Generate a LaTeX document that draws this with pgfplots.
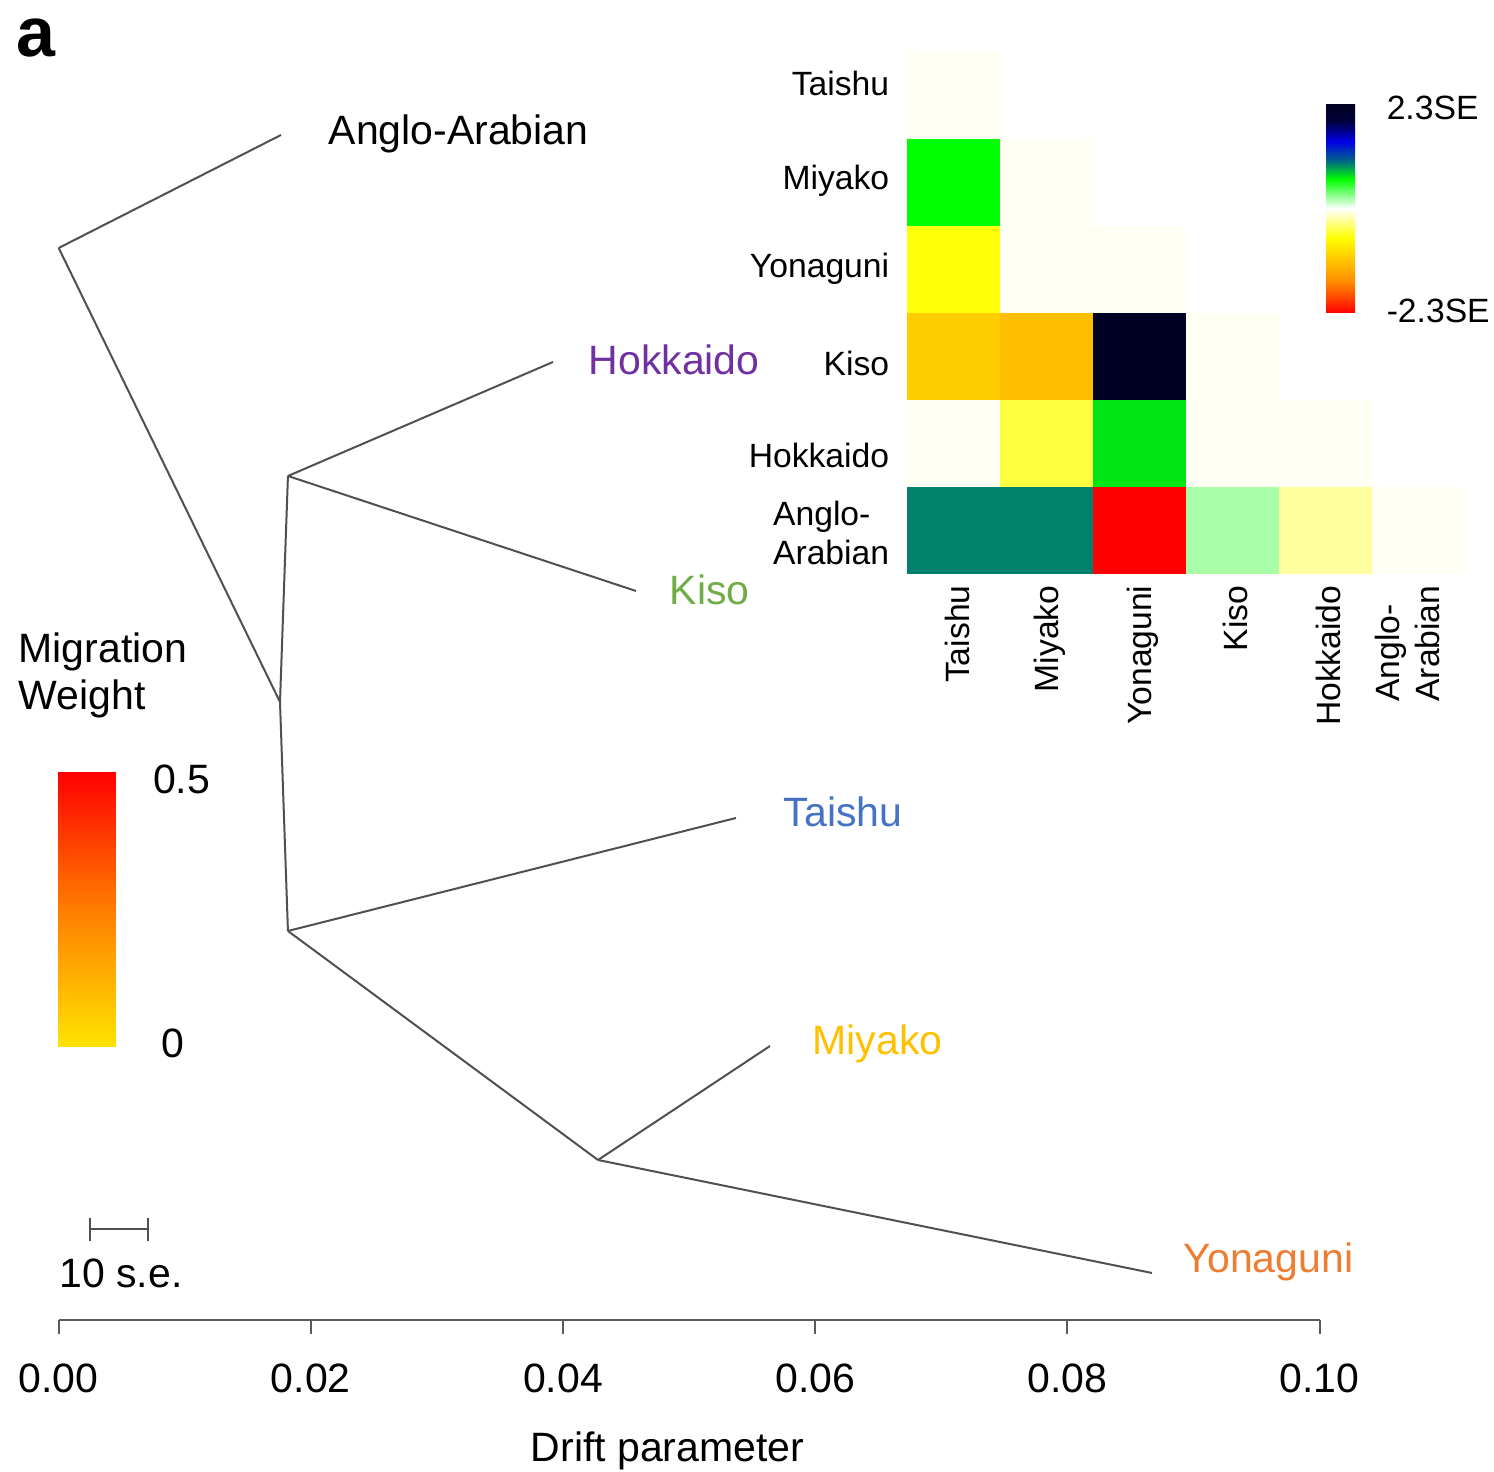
\documentclass[border=0pt]{standalone}
\usepackage{pgfplots}
\pgfplotsset{compat=1.18}
\usepackage{pgfplotstable}
\usepackage{fontspec}
\setmainfont{Liberation Sans}

\definecolor{treeg}{RGB}{80,80,80}
\definecolor{axgray}{RGB}{90,90,90}
\definecolor{hokk}{RGB}{112,48,160}
\definecolor{kiso}{RGB}{112,173,71}
\definecolor{taishu}{RGB}{68,114,196}
\definecolor{miyako}{RGB}{255,192,0}
\definecolor{yona}{RGB}{237,125,49}

\newcommand\tipfont{\fontsize{12.3}{14}\selectfont}
\newcommand\hmfont{\fontsize{10.1}{11.9}\selectfont}

\pgfdeclareplotmark{cell}{\pgfpathrectangle{\pgfpoint{-13.98pt}{-13.1pt}}{\pgfpoint{27.96pt}{26.2pt}}\pgfusepathqfill}

% residuals (in SE units): col = population index (Taishu..Anglo-Arabian), row 5 = Taishu ... row 0 = Anglo-Arabian
\pgfplotstableread{
col row val
0 5 -0.03
0 4 0.64
1 4 -0.03
0 3 -0.62
1 3 -0.03
2 3 -0.03
0 2 -1.06
1 2 -1.19
2 2 2.25
3 2 -0.03
0 1 -0.03
1 1 -0.48
2 1 0.71
3 1 -0.03
4 1 -0.03
0 0 0.98
1 0 0.98
2 0 -2.3
3 0 0.22
4 0 -0.24
5 0 -0.03
}\residtable

\begin{document}
\begin{tikzpicture}
\begin{axis}[
  at={(0pt,0pt)}, anchor=south west,
  scale only axis, width=378.3pt, height=396pt,
  xmin=0, xmax=0.1, ymin=-1320, ymax=0,
  clip=false,
  axis x line=bottom, axis y line=none, ytick=\empty,
  x axis line style={-, draw=axgray, line width=0.6pt},
  xtick={0,0.02,0.04,0.06,0.08,0.1},
  scaled x ticks=false,
  tick align=outside, major tick length=4.2pt,
  xtick style={draw=axgray, line width=0.6pt},
  /pgf/number format/assume math mode=true,
  xticklabel style={font=\tipfont, /pgf/number format/fixed, /pgf/number format/fixed zerofill, /pgf/number format/precision=2, yshift=-5.5pt},
]
% tree edges
\addplot[treeg, line width=0.6pt] coordinates {(0,-248) (0.01763,-135)};
\addplot[treeg, line width=0.6pt] coordinates {(0,-248) (0.01755,-702)};
\addplot[treeg, line width=0.6pt] coordinates {(0.01755,-702) (0.01818,-476)};
\addplot[treeg, line width=0.6pt] coordinates {(0.01755,-702) (0.01818,-931)};
\addplot[treeg, line width=0.6pt] coordinates {(0.01818,-476) (0.03920,-362)};
\addplot[treeg, line width=0.6pt] coordinates {(0.01818,-476) (0.04578,-591)};
\addplot[treeg, line width=0.6pt] coordinates {(0.01818,-931) (0.05371,-818)};
\addplot[treeg, line width=0.6pt] coordinates {(0.01818,-931) (0.04277,-1160)};
\addplot[treeg, line width=0.6pt] coordinates {(0.04277,-1160) (0.05641,-1046)};
\addplot[treeg, line width=0.6pt] coordinates {(0.04277,-1160) (0.08670,-1273)};
% scale bar
\addplot[treeg, line width=0.6pt] coordinates {(0.00248,-1229) (0.00708,-1229)};
\addplot[treeg, line width=0.6pt] coordinates {(0.00248,-1218) (0.00248,-1241)};
\addplot[treeg, line width=0.6pt] coordinates {(0.00708,-1218) (0.00708,-1241)};
% tip labels
\node[anchor=base west, inner sep=0pt, font=\tipfont] at (axis cs:0.02136,-145) {Anglo-Arabian};
\node[anchor=base west, inner sep=0pt, font=\tipfont, text=hokk] at (axis cs:0.04197,-375) {Hokkaido};
\node[anchor=base west, inner sep=0pt, font=\tipfont, text=kiso] at (axis cs:0.04840,-605) {Kiso};
\node[anchor=base west, inner sep=0pt, font=\tipfont, text=taishu] at (axis cs:0.05744,-827) {Taishu};
\node[anchor=base west, inner sep=0pt, font=\tipfont, text=miyako] at (axis cs:0.05974,-1055) {Miyako};
\node[anchor=base west, inner sep=0pt, font=\tipfont, text=yona] at (axis cs:0.08916,-1273) {Yonaguni};
% other texts
\node[anchor=base west, inner sep=0pt, font=\tipfont] at (axis cs:0,-1288) {10 s.e.};
\node[anchor=base west, inner sep=0pt, font=\tipfont] at (axis cs:-0.00323,-663) {Migration};
\node[anchor=base west, inner sep=0pt, font=\tipfont] at (axis cs:-0.00323,-710) {Weight};
\node[anchor=base west, inner sep=0pt, font=\fontsize{21}{24}\selectfont\bfseries] at (axis cs:-0.00343,-57) {a};
\node[anchor=base, inner sep=0pt, font=\tipfont] at (axis cs:0.04828,-1462) {Drift parameter};
\end{axis}

% migration weight colour scale
\begin{axis}[
  at={(-0.21pt,164.4pt)}, anchor=north west,
  scale only axis, width=17.1pt, height=82.5pt,
  xmin=0, xmax=1, ymin=0, ymax=0.5,
  enlargelimits=false,
  axis line style={draw=none}, tick style={draw=none}, major tick length=0pt,
  xtick=\empty,
  ytick={0.007,0.487}, yticklabels={\hspace*{2.4pt}0,0.5},
  yticklabel pos=right,
  yticklabel style={anchor=west, font=\tipfont, xshift=7.9pt},
  colormap={migw}{rgb255(0pt)=(255,228,0); rgb255(50pt)=(255,125,0); rgb255(100pt)=(255,0,0)},
  point meta min=0, point meta max=0.5,
]
\addplot[patch, patch type=rectangle, shader=interp, point meta=y]
  coordinates {(0,0) (1,0) (1,0.5) (0,0.5)};
\end{axis}

\begin{axis}[
  at={(254.67pt,223.86pt)}, anchor=south west,
  scale only axis, width=167.1pt, height=156.63pt,
  xmin=-0.5, xmax=5.5, ymin=-0.5, ymax=5.5,
  clip=false,
  axis line style={draw=none},
  major tick length=0pt, tick style={draw=none},
  xtick={0,1,2,3,4,4.85}, ytick={-0.03,0.86,1.92,3.01,4.02,5.14},
  xticklabels={Taishu,Miyako,Yonaguni,Kiso,Hokkaido,{Anglo-\\Arabian}},
  yticklabels={{Anglo-\\Arabian},Hokkaido,Kiso,Yonaguni,Miyako,Taishu},
  xticklabel style={rotate=90, anchor=east, align=left, font=\hmfont, yshift=-1pt},
  yticklabel style={anchor=east, align=left, font=\hmfont, xshift=-2pt},
  colormap={resid}{rgb255(0pt)=(255,0,0); rgb255(15pt)=(255,140,0); rgb255(36pt)=(255,255,0); rgb255(50pt)=(255,255,255); rgb255(64pt)=(0,255,0); rgb255(73pt)=(0,100,135); rgb255(82pt)=(0,0,230); rgb255(92pt)=(0,0,60); rgb255(100pt)=(0,0,30)},
  point meta min=-2.3, point meta max=2.3,
  colorbar,
  colorbar shift/.style={},
  colorbar style={at={(parent axis.north west)}, anchor=north west, xshift=125.52pt, yshift=-15.69pt,
    scale only axis, width=8.7pt, height=62.7pt, axis line style={draw=none}, major tick length=0pt,
    tick style={draw=none},
    ytick={-2.26,2.21}, yticklabels={-2.3SE,2.3SE}, yticklabel style={font=\hmfont, xshift=6pt}},
]
\addplot[scatter, only marks, mark=cell, point meta=explicit,
  scatter/use mapped color={draw=none, fill=mapped color}]
  table[x=col, y=row, meta=val] {\residtable};
\end{axis}
\pgfresetboundingbox
\useasboundingbox (-17.61pt,-45.6pt) rectangle (430.59pt,396pt);
\end{tikzpicture}
\end{document}
